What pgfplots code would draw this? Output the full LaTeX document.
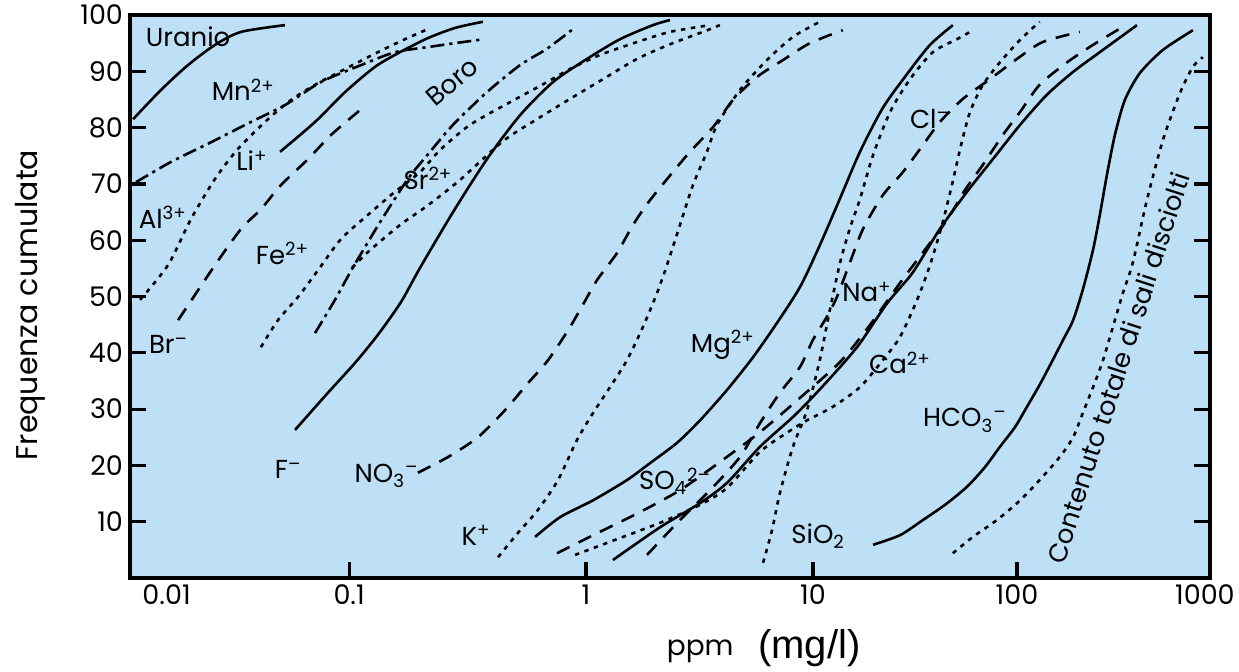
\documentclass[border=0pt]{standalone}
\usepackage{fontspec}
\setmainfont{Poppins}
\newfontfamily\arialfont{Liberation Sans}
\usepackage{pgfplots}
\pgfplotsset{compat=1.18}
\usetikzlibrary{calc}
\definecolor{bgblue}{RGB}{189,224,246}
% ion with sub- and superscript
\newcommand{\ion}[2]{\textsubscript{#1}\textsuperscript{#2}}
\newcommand{\tickfont}{\fontsize{13.5}{15}\selectfont}
\tikzset{
  c-solid/.style={black, line width=1.3pt, smooth, tension=0.45},
  c-dot/.style={c-solid, dash pattern=on 2.2pt off 2.8pt},
  c-dash/.style={c-solid, dash pattern=on 7pt off 5pt},
  c-dashdot/.style={c-solid, dash pattern=on 7pt off 2.5pt on 1.6pt off 2.5pt},
  lbl/.style={font=\fontsize{13}{15}\selectfont, inner sep=0pt},
  tk/.style={black, line width=1.6pt},
}

\begin{document}
\begin{tikzpicture}
\begin{axis}[
  name=ax,
  width=540pt, height=281.5pt, scale only axis,
  % hand drawn log scale: decades are not equally wide in the original
  x coord trafo/.code={%
    \pgfmathparse{log10(#1)}\let\Lx\pgfmathresult
    \pgfmathparse{\Lx<-1 ? 349+(\Lx+1)*183 : (\Lx<0 ? 349+(\Lx+1)*237 : (\Lx<1 ? 586+\Lx*227 : (\Lx<2 ? 813+(\Lx-1)*204 : 1017+(\Lx-2)*188)))}%
  },
  xmin=0.00635, xmax=1064, ymin=0, ymax=100,
  xtick={0.1,1,10,100}, xticklabels={0.1,1,10,100},
  ytick={10,20,...,100},
  xtick pos=bottom, ytick pos=both, yticklabel pos=left,
  tick align=inside, major tick length=8pt,
  tick style={line width=1.6pt, black},
  axis line style={line width=1.6pt},
  axis background/.style={fill=bgblue},
  tick label style={font=\tickfont},
  /pgf/number format/assume math mode=true,
  clip=false,
]
% Uranio
\addplot[c-solid] coordinates {(0.00661,81.5)(0.00939,86.7)(0.01318,91.1)(0.01854,94.7)(0.0257,97.0)(0.0447,98.2)};
% Mn2+
\addplot[c-dashdot] coordinates {(0.00685,70.3)(0.01064,73.9)(0.01762,77.4)(0.0291,81.0)(0.0447,84.0)(0.0703,88.1)(0.1124,91.1)(0.1563,93.4)(0.2153,94.3)(0.280,95.0)(0.357,95.6)};
% Li+
\addplot[c-solid] coordinates {(0.0420,75.7)(0.0652,81.0)(0.0951,86.3)(0.1288,90.8)(0.1641,93.4)(0.2153,95.9)(0.280,97.7)(0.367,98.8)};
% Al3+
\addplot[c-dot] coordinates {(0.00721,49.4)(0.01026,55.6)(0.01371,63.8)(0.01854,70.9)(0.0247,76.2)(0.0361,81.5)(0.0482,84.9)(0.0652,87.6)(0.0951,90.4)(0.1324,93.4)(0.1722,95.7)(0.2153,97.5)};
% Br-
\addplot[c-dash] coordinates {(0.01164,45.8)(0.01854,55.6)(0.0257,62.0)(0.0330,65.5)(0.0425,69.8)(0.0597,74.4)(0.0798,78.7)(0.1112,83.1)};
% Fe2+
\addplot[c-dot] coordinates {(0.0330,41.0)(0.0409,45.8)(0.0526,49.9)(0.0678,54.7)(0.0904,60.2)(0.1202,64.5)(0.1563,68.6)(0.1995,72.1)(0.242,76.0)(0.3243,80.5)(0.4775,84.5)(0.659,87.7)(0.856,90.4)(1.152,92.9)(1.678,95.2)(2.344,97.0)(3.517,98.2)};
% Boro
\addplot[c-dashdot] coordinates {(0.0652,43.5)(0.0838,49.4)(0.1040,55.2)(0.1352,63.2)(0.1774,70.9)(0.2198,75.7)(0.2748,80.5)(0.382,86.3)(0.527,91.1)(0.684,94.0)(0.881,97.5)};
% Sr2+
\addplot[c-dot] coordinates {(0.1030,55.1)(0.1202,57.9)(0.1641,62.7)(0.2153,66.2)(0.2938,70.7)(0.4467,77.6)(0.621,81.5)(0.856,85.1)(1.188,88.6)(1.678,92.2)(2.344,94.8)(3.275,97.0)(3.89,98.2)};
% F-
\addplot[c-solid] coordinates {(0.0507,26.3)(0.0767,32.9)(0.1060,38.2)(0.1324,43.2)(0.1656,49.0)(0.1995,55.1)(0.2748,65.0)(0.382,74.4)(0.527,82.2)(0.726,88.1)(1.010,92.2)(1.412,95.7)(1.972,98.2)(2.344,99.1)};
% NO3-
\addplot[c-dash] coordinates {(0.1954,18.7)(0.262,21.5)(0.350,25.0)(0.455,29.8)(0.569,34.6)(0.692,38.7)(0.840,44.0)(0.943,47.6)(1.118,52.9)(1.369,57.7)(1.611,62.7)(1.914,67.1)(2.786,75.1)(3.63,80.1)(4.44,84.9)(5.67,89.0)(7.38,92.0)(9.70,95.0)(14.0,97.3)};
% K+
\addplot[c-dot] coordinates {(0.4256,3.7)(0.516,8.0)(0.627,12.1)(0.762,17.4)(0.916,24.5)(1.074,29.3)(1.276,33.9)(1.516,38.7)(1.782,44.6)(2.055,50.6)(2.275,55.6)(2.594,62.7)(2.960,69.8)(3.41,75.7)(3.78,80.5)(4.77,86.7)(6.27,92.0)(8.16,96.1)(10.8,98.8)};
% Mg2+
\addplot[c-solid] coordinates {(0.610,7.3)(0.777,10.8)(1.074,13.8)(1.516,17.4)(1.914,20.4)(2.517,24.0)(3.18,28.0)(4.18,33.4)(5.44,39.2)(6.94,45.3)(8.77,51.7)(10.8,59.1)(13.6,67.5)(17.0,75.7)(22.0,83.5)(28.9,89.5)(37.5,94.7)(48.5,98.2)};
% SiO2
\addplot[c-dot] coordinates {(6.03,2.7)(6.60,8.5)(7.15,15.1)(8.16,23.3)(9.41,29.8)(10.8,38.7)(12.1,47.6)(13.6,56.1)(15.2,62.2)(17.0,67.3)(19.7,75.1)(23.9,82.8)(29.9,88.6)(38.7,93.4)(50.8,95.7)(58.9,97.0)};
% Cl-
\addplot[c-dash] coordinates {(1.857,4.1)(2.594,10.3)(3.52,15.6)(4.77,21.5)(5.84,27.5)(7.15,32.9)(8.77,37.5)(10.0,42.3)(11.7,46.4)(13.1,49.9)(15.2,56.1)(17.6,62.0)(22.0,68.0)(27.6,72.1)(34.6,76.9)(41.9,81.0)(54.3,85.1)(73.7,88.6)(100,92.2)(137,95.2)(216,97.0)};
% Ca2+
\addplot[c-dot] coordinates {(0.899,4.1)(1.412,7.1)(2.118,9.8)(3.18,13.0)(4.18,16.0)(5.84,22.4)(7.68,25.8)(9.41,28.0)(12.5,30.4)(17.0,33.9)(22.0,38.7)(26.7,42.8)(32.4,49.4)(37.5,55.6)(42.9,62.7)(48.0,69.8)(53.2,76.9)(58.9,82.8)(68.1,87.6)(82.5,91.6)(104,95.6)(132,98.8)};
% Na+
\addplot[c-solid] coordinates {(1.315,3.2)(2.118,9.0)(3.18,13.3)(4.18,16.9)(5.84,23.3)(8.16,28.6)(10.0,32.2)(13.6,37.5)(17.0,41.7)(23.1,48.8)(30.9,54.3)(41.9,62.0)(56.9,68.6)(76.2,74.4)(104,80.5)(144,85.8)(199,89.9)(276,93.4)(435,98.2)};
% SO4 2-
\addplot[c-dash] coordinates {(0.755,4.4)(1.152,8.2)(1.729,11.7)(2.594,15.6)(3.89,20.6)(5.84,25.9)(8.77,32.0)(13.6,38.4)(19.0,44.9)(26.7,52.4)(35.4,58.3)(45.4,63.6)(55.6,68.9)(68.1,73.4)(85.3,78.7)(104,82.8)(132,87.6)(185,91.6)(254,94.7)(366,97.9)};
% HCO3-
\addplot[c-solid] coordinates {(19.7,5.9)(26.7,7.6)(34.6,10.3)(44.4,13.0)(56.9,16.2)(69.7,19.7)(82.5,23.3)(97.8,26.8)(113,30.4)(132,34.3)(155,38.7)(176,42.3)(199,45.8)(224,51.2)(254,58.3)(276,64.5)(301,71.6)(332,78.7)(375,84.9)(451,89.7)(598,93.8)(863,97.3)};
% contenuto totale di sali disciolti
\addplot[c-dot] coordinates {(48.5,4.4)(60.8,7.3)(79.8,10.3)(104,13.8)(132,17.4)(169,21.5)(199,25.0)(224,29.3)(254,33.9)(287,38.7)(324,44.6)(366,50.6)(414,56.1)(491,67.1)(598,77.8)(736,86.1)(863,90.8)(975,92.5)};

% inward tick marks (the custom x trafo keeps pgfplots from drawing them)
\pgfplotsinvokeforeach{10,20,30,40,50,60,70,80,90}{
  \draw[tk] (axis cs:0.00635,#1) -- ++(8pt,0pt);
  \draw[tk] (axis cs:1064,#1) -- ++(-8pt,0pt);
}
\pgfplotsinvokeforeach{0.1,1,10,100}{
  \draw[tk] (axis cs:#1,0) -- ++(0pt,8pt);
}

% decade labels without a tick mark
\node[anchor=north, font=\tickfont] at (axis cs:0.01,0) {0.01};
\node[anchor=north, font=\tickfont] at (axis cs:1000,0) {1000};

% curve labels
\node[lbl] at (axis cs:0.01318,96.1) {Uranio};
\node[lbl] at (axis cs:0.0264,86.7) {Mn\textsuperscript{2+}};
\node[lbl] at (axis cs:0.0295,74.1) {Li\textsuperscript{+}};
\node[lbl] at (axis cs:0.00951,64.1) {Al\textsuperscript{3+}};
\node[lbl] at (axis cs:0.0431,57.7) {Fe\textsuperscript{2+}};
\node[lbl] at (axis cs:0.01025,41.4) {Br\textsuperscript{–}};
\node[lbl] at (axis cs:0.2153,71.0) {Sr\textsuperscript{2+}};
\node[lbl, rotate=40] at (axis cs:0.272,88.1) {Boro};
\node[lbl] at (axis cs:0.0464,19.2) {F\textsuperscript{–}};
\node[lbl] at (axis cs:0.1419,18.1) {NO\ion{3}{–}};
\node[lbl] at (axis cs:0.3435,7.6) {K\textsuperscript{+}};
\node[lbl] at (axis cs:4.01,41.4) {Mg\textsuperscript{2+}};
\node[lbl] at (axis cs:2.466,17.2) {SO\ion{4}{2–}};
\node[lbl] at (axis cs:10.6,7.5) {SiO\textsubscript{2}};
\node[lbl] at (axis cs:18.4,50.8) {Na\textsuperscript{+}};
\node[lbl] at (axis cs:37.5,81.5) {Cl\textsuperscript{–}};
\node[lbl] at (axis cs:26.7,38.2) {Ca\textsuperscript{2+}};
\node[lbl] at (axis cs:55.6,28.0) {HCO\ion{3}{–}};
\node[lbl, rotate=72] at (axis cs:345,37.3) {Contenuto totale di sali disciolti};

% axis titles
\node[font=\fontsize{15}{17}\selectfont, rotate=90] at (rel axis cs:-0.0926,0.485) {Frequenza cumulata};
\node[font=\fontsize{14}{16}\selectfont] at (rel axis cs:0.528,-0.131) {ppm};
\node[font=\arialfont\fontsize{20}{22}\selectfont] at (rel axis cs:0.629,-0.124) {(mg/l)};
\end{axis}
\pgfresetboundingbox
\path ($(ax.south west)+(-65pt,-46.5pt)$) rectangle ($(ax.north east)+(14.5pt,7.5pt)$);
\end{tikzpicture}
\end{document}
